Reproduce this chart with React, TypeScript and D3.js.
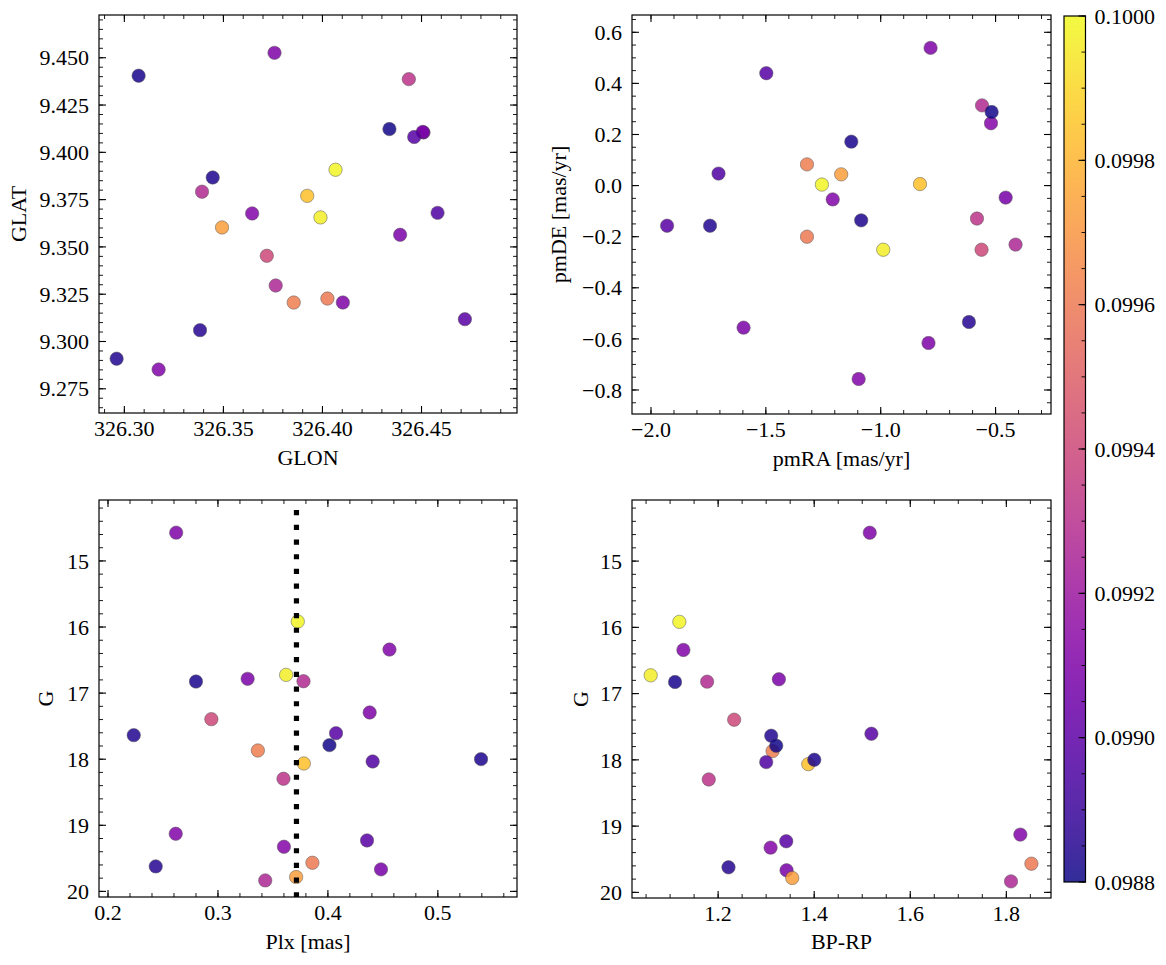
import React from "react";
import * as d3 from "d3";

// ---- Data (one entry per star, in drawing order) ----
const GLON = [326.3758, 326.4066, 326.3645, 326.3072, 326.4392, 326.399, 326.3392, 326.3719, 326.4103, 326.2961, 326.3855, 326.451, 326.4506, 326.4463, 326.4338, 326.3923, 326.4581, 326.3446, 326.4436, 326.3173, 326.4719, 326.3382, 326.4025, 326.3493, 326.3764];
const GLAT = [9.4526, 9.3908, 9.3677, 9.4405, 9.3564, 9.3656, 9.3792, 9.3453, 9.3206, 9.2909, 9.3206, 9.4105, 9.4108, 9.4081, 9.4123, 9.377, 9.368, 9.3867, 9.4387, 9.2852, 9.3118, 9.306, 9.3227, 9.3603, 9.3296];
const PMRA = [-0.783, -1.256, -1.209, -1.128, -1.597, -0.989, -0.559, -0.561, -0.792, -1.743, -1.321, -0.52, -0.456, -1.498, -0.517, -0.829, -1.706, -1.085, -0.581, -1.096, -1.93, -0.616, -1.321, -1.172, -0.413];
const PMDE = [0.539, 0.004, -0.054, 0.172, -0.556, -0.251, 0.314, -0.251, -0.616, -0.157, 0.083, 0.244, -0.047, 0.44, 0.288, 0.006, 0.047, -0.136, -0.129, -0.757, -0.157, -0.534, -0.2, 0.044, -0.231];
const PLX = [0.262, 0.3726, 0.456, 0.28, 0.327, 0.362, 0.3778, 0.294, 0.438, 0.2234, 0.3363, 0.36, 0.4483, 0.4074, 0.4014, 0.3781, 0.4407, 0.5393, 0.3596, 0.2616, 0.4356, 0.2434, 0.3859, 0.3711, 0.343];
const GMAG = [14.572, 15.917, 16.341, 16.825, 16.784, 16.724, 16.82, 17.394, 17.293, 17.636, 17.868, 19.325, 19.667, 17.606, 17.787, 18.065, 18.034, 17.999, 18.296, 19.128, 19.229, 19.622, 19.567, 19.783, 19.834];
const BPRP = [1.5157, 1.1193, 1.1277, 1.1103, 1.3265, 1.0596, 1.1771, 1.2334, NaN, 1.3105, 1.3133, 1.3092, 1.3425, 1.5191, 1.321, 1.3877, 1.3001, 1.4002, 1.1805, 1.8292, 1.3418, 1.2216, 1.8522, 1.3543, 1.8097];
const PROB = [0.0991, 0.09999, 0.09911, 0.09882, 0.09909, 0.09997, 0.09928, 0.0994, 0.0991, 0.09884, 0.09962, 0.09912, 0.09908, 0.09898, 0.09881, 0.09984, 0.09896, 0.09883, 0.09932, 0.09911, 0.09899, 0.09885, 0.0996, 0.09973, 0.09926];

const PLX_REF = 0.3714;
const PLX_REF_G_TOP = 14.23;

// tick values
const GLON_TICKS = [326.3, 326.35, 326.4, 326.45];
const GLAT_TICKS = [9.275, 9.3, 9.325, 9.35, 9.375, 9.4, 9.425, 9.45];
const PMRA_TICKS = [-2.0, -1.5, -1.0, -0.5];
const PMDE_TICKS = [-0.8, -0.6, -0.4, -0.2, 0.0, 0.2, 0.4, 0.6];
const PLX_TICKS = [0.2, 0.3, 0.4, 0.5];
const G_TICKS = [15, 16, 17, 18, 19, 20];
const BPRP_TICKS = [1.2, 1.4, 1.6, 1.8];
const CB_TICKS = [0.0988, 0.099, 0.0992, 0.0994, 0.0996, 0.0998, 0.1];
const CB_DOMAIN = [0.0988, 0.1];

const FONT = "Liberation Serif, DejaVu Serif, serif";
const FS = 22;
const TXT = { fontFamily: FONT, fontSize: FS } as React.CSSProperties;

const color = d3.scaleSequential(d3.interpolatePlasma).domain(CB_DOMAIN);

function minorRange(lo: number, hi: number, step: number) {
  const a = Math.min(lo, hi), b = Math.max(lo, hi);
  const out: number[] = [];
  const s = Math.ceil(a / step - 1e-6);
  const e = Math.floor(b / step + 1e-6);
  for (let i = s; i <= e; i++) out.push(i * step);
  return out;
}

const minus = (s: string) => s.replace("-", "\u2212");

type PanelProps = {
  id: string;
  x0: number; y0: number; w: number; h: number;
  xDom: number[]; yDom: number[];
  xTicks: number[]; yTicks: number[];
  xMinor: number; yMinor: number;
  xFmt: (v: number) => string; yFmt: (v: number) => string;
  xv: number[]; yv: number[];
  xLabel: string; yLabel: string; yLabelX: number; xLabelY: number;
  refLine?: boolean;
};

function Panel(p: PanelProps) {
  const xs = d3.scaleLinear().domain(p.xDom).range([p.x0, p.x0 + p.w]);
  const ys = d3.scaleLinear().domain(p.yDom).range([p.y0 + p.h, p.y0]);
  const bottom = p.y0 + p.h, right = p.x0 + p.w;
  const MAJ = 7, MIN = 4;
  const xMin = minorRange(p.xDom[0], p.xDom[1], p.xMinor);
  const yMin = minorRange(p.yDom[0], p.yDom[1], p.yMinor);
  const pts = p.xv.map((x, i) => ({ x, y: p.yv[i], c: PROB[i] })).filter(d => isFinite(d.x) && isFinite(d.y));
  return (
    <g>
      <defs>
        <clipPath id={p.id}>
          <rect x={p.x0} y={p.y0} width={p.w} height={p.h} />
        </clipPath>
      </defs>
      <g clipPath={`url(#${p.id})`}>
        {pts.map((d, i) => (
          <circle key={i} cx={xs(d.x)} cy={ys(d.y)} r={6.7} fill={color(d.c)} stroke="#3a3a3a" strokeWidth={0.5} opacity={0.85} />
        ))}
        {p.refLine && (
          <line x1={xs(PLX_REF)} x2={xs(PLX_REF)} y1={ys(PLX_REF_G_TOP)} y2={ys(p.yDom[0])} stroke="#000" strokeWidth={5.2} strokeDasharray="5.2 9.5" />
        )}
      </g>
      <rect x={p.x0} y={p.y0} width={p.w} height={p.h} fill="none" stroke="#000" strokeWidth={1.2} />
      {xMin.map((v, i) => (
        <g key={"xm" + i} stroke="#000" strokeWidth={0.9}>
          <line x1={xs(v)} x2={xs(v)} y1={bottom} y2={bottom - MIN} />
          <line x1={xs(v)} x2={xs(v)} y1={p.y0} y2={p.y0 + MIN} />
        </g>
      ))}
      {yMin.map((v, i) => (
        <g key={"ym" + i} stroke="#000" strokeWidth={0.9}>
          <line x1={p.x0} x2={p.x0 + MIN} y1={ys(v)} y2={ys(v)} />
          <line x1={right} x2={right - MIN} y1={ys(v)} y2={ys(v)} />
        </g>
      ))}
      {p.xTicks.map((v, i) => (
        <g key={"xM" + i}>
          <line x1={xs(v)} x2={xs(v)} y1={bottom} y2={bottom - MAJ} stroke="#000" strokeWidth={1.1} />
          <line x1={xs(v)} x2={xs(v)} y1={p.y0} y2={p.y0 + MAJ} stroke="#000" strokeWidth={1.1} />
          <text x={xs(v)} y={bottom + 23} textAnchor="middle" style={TXT}>{minus(p.xFmt(v))}</text>
        </g>
      ))}
      {p.yTicks.map((v, i) => (
        <g key={"yM" + i}>
          <line x1={p.x0} x2={p.x0 + MAJ} y1={ys(v)} y2={ys(v)} stroke="#000" strokeWidth={1.1} />
          <line x1={right} x2={right - MAJ} y1={ys(v)} y2={ys(v)} stroke="#000" strokeWidth={1.1} />
          <text x={p.x0 - 10} y={ys(v)} dy="0.35em" textAnchor="end" style={TXT}>{minus(p.yFmt(v))}</text>
        </g>
      ))}
      <text x={p.x0 + p.w / 2} y={p.xLabelY} textAnchor="middle" style={TXT}>{p.xLabel}</text>
      <text transform={`translate(${p.yLabelX},${p.y0 + p.h / 2}) rotate(-90)`} textAnchor="middle" dy="0.35em" style={TXT}>{p.yLabel}</text>
    </g>
  );
}

function Colorbar() {
  const x0 = 1064, w = 21.5, y0 = 16, h = 866;
  const ys = d3.scaleLinear().domain(CB_DOMAIN).range([y0 + h, y0]);
  const stops = d3.range(0, 1.0001, 0.05);
  const minor = minorRange(CB_DOMAIN[0], CB_DOMAIN[1], 0.00005);
  return (
    <g>
      <defs>
        <linearGradient id="cbgrad" x1="0" y1="1" x2="0" y2="0">
          {stops.map((t, i) => (
            <stop key={i} offset={t} stopColor={d3.interpolatePlasma(t)} />
          ))}
        </linearGradient>
      </defs>
      <rect x={x0} y={y0} width={w} height={h} fill="url(#cbgrad)" opacity={0.85} />
      <rect x={x0} y={y0} width={w} height={h} fill="none" stroke="#000" strokeWidth={1.2} />
      {minor.map((v, i) => (
        <line key={"m" + i} x1={x0 + w} x2={x0 + w - 4} y1={ys(v)} y2={ys(v)} stroke="#000" strokeWidth={0.9} />
      ))}
      {CB_TICKS.map((v, i) => (
        <g key={"M" + i}>
          <line x1={x0 + w} x2={x0 + w - 7} y1={ys(v)} y2={ys(v)} stroke="#000" strokeWidth={1.1} />
          <text x={x0 + w + 9} y={ys(v)} dy="0.35em" style={TXT}>{d3.format(".4f")(v)}</text>
        </g>
      ))}
    </g>
  );
}

export default function App() {
  return (
    <svg width={1166} height={965} style={{ position: "absolute", left: 0, top: 0, background: "#fff" }}>
      <rect x={0} y={0} width={1166} height={965} fill="#fff" />
      <Panel id="c1" x0={99} y0={15} w={418} h={398}
        xDom={[326.2872, 326.4982]} yDom={[9.2622, 9.4726]}
        xTicks={GLON_TICKS} yTicks={GLAT_TICKS} xMinor={0.01} yMinor={0.005}
        xFmt={d3.format(".2f")} yFmt={d3.format(".3f")}
        xv={GLON} yv={GLAT} xLabel="GLON" yLabel="GLAT" yLabelX={18} xLabelY={465} />
      <Panel id="c2" x0={632} y0={15} w={419} h={399}
        xDom={[-2.0827, -0.2587]} yDom={[-0.894, 0.6677]}
        xTicks={PMRA_TICKS} yTicks={PMDE_TICKS} xMinor={0.1} yMinor={0.05}
        xFmt={d3.format(".1f")} yFmt={d3.format(".1f")}
        xv={PMRA} yv={PMDE} xLabel="pmRA [mas/yr]" yLabel="pmDE [mas/yr]" yLabelX={558} xLabelY={466} />
      <Panel id="c3" x0={99} y0={500} w={418} h={397}
        xDom={[0.1918, 0.572]} yDom={[20.085, 14.078]}
        xTicks={PLX_TICKS} yTicks={G_TICKS} xMinor={0.02} yMinor={0.2}
        xFmt={d3.format(".1f")} yFmt={d3.format("d")}
        xv={PLX} yv={GMAG} xLabel="Plx [mas]" yLabel="G" yLabelX={45} xLabelY={949} refLine />
      <Panel id="c4" x0={632} y0={500} w={419} h={398}
        xDom={[1.0207, 1.893]} yDom={[20.085, 14.078]}
        xTicks={BPRP_TICKS} yTicks={G_TICKS} xMinor={0.05} yMinor={0.2}
        xFmt={d3.format(".1f")} yFmt={d3.format("d")}
        xv={BPRP} yv={GMAG} xLabel="BP-RP" yLabel="G" yLabelX={580} xLabelY={949} />
      <Colorbar />
    </svg>
  );
}
